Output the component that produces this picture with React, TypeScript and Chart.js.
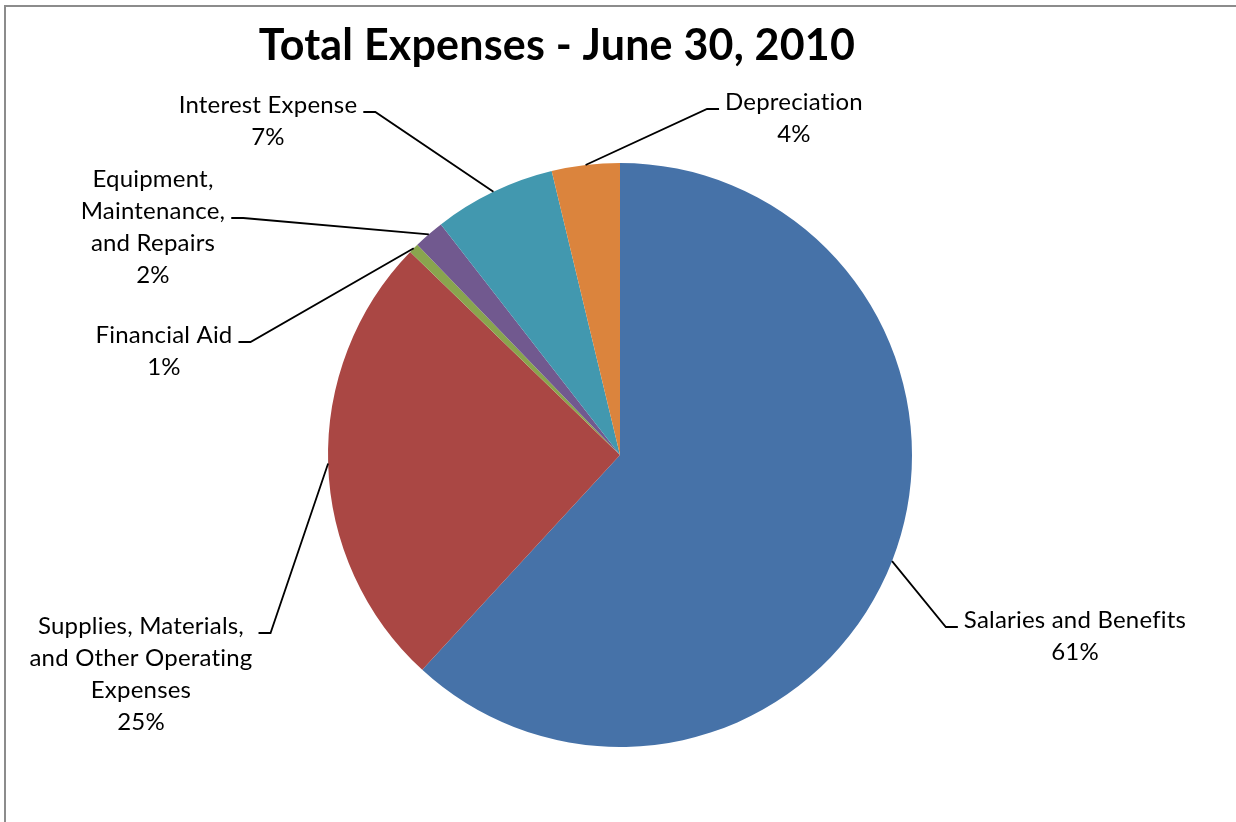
import { useEffect, useRef } from "react"
import { Chart, registerables, type ChartConfiguration, type Plugin } from "chart.js"

Chart.register(...registerables)

const chartTitle = "Total Expenses - June 30, 2010"

// category names, already wrapped the way Excel wrapped them
const categories = [
  ["Salaries and Benefits"],
  ["Supplies, Materials,", "and Other Operating", "Expenses"],
  ["Financial Aid"],
  ["Equipment,", "Maintenance,", "and Repairs"],
  ["Interest Expense"],
  ["Depreciation"],
]
const shares = [61.84, 25.4, 0.55, 1.7, 6.75, 3.76]
const percentLabels = ["61%", "25%", "1%", "2%", "7%", "4%"]
const sliceColors = ["#4672A8", "#AA4744", "#89A54E", "#71598F", "#4298AF", "#DB843D"]

// label placement relative to the pie centre: [dx of text centre, dy of first baseline, line the leader joins]
const labelLayout = [
  [455, 173, 0],
  [-479, 179, 0],
  [-456, -112, 0],
  [-467, -268, 1],
  [-352, -342, 0],
  [174, -345, 0],
]

const LABEL_FONT = "24px Lato, 'Open Sans', sans-serif"
const LINE_H = 32

const excelLook: Plugin<"pie"> = {
  id: "excelLook",
  beforeDraw(chart) {
    const { ctx, width, height } = chart
    ctx.save()
    ctx.fillStyle = "#fff"
    ctx.fillRect(0, 0, width, height)
    ctx.strokeStyle = "#8c8c8c"
    ctx.lineWidth = 2
    ctx.strokeRect(5, 6, width + 20, height + 20)
    ctx.restore()
  },
  afterDraw(chart) {
    const { ctx } = chart
    ctx.save()
    // a tiny letter spacing keeps Lato from drawing fi / ti ligatures
    ;(ctx as any).letterSpacing = "0.2px"
    ctx.fillStyle = "#000"
    ctx.textAlign = "center"
    ctx.textBaseline = "alphabetic"
    ctx.font = "bold 43px Lato, sans-serif"
    ctx.fillText(chartTitle, 557, 60)

    ctx.font = LABEL_FONT
    ctx.strokeStyle = "#000"
    ctx.lineWidth = 1.8
    const arcs = chart.getDatasetMeta(0).data
    arcs.forEach((arc, i) => {
      const { x, y, startAngle, endAngle, outerRadius } = arc.getProps(
        ["x", "y", "startAngle", "endAngle", "outerRadius"],
        true
      ) as any
      const mid = (startAngle + endAngle) / 2
      const px = x + Math.cos(mid) * outerRadius
      const py = y + Math.sin(mid) * outerRadius
      const lines = [...categories[i], percentLabels[i]]
      const [dx, dy, anchor] = labelLayout[i]
      const cx = x + dx
      const base = y + dy
      const widest = Math.max(...lines.map((l) => ctx.measureText(l).width))
      const ty = base + anchor * LINE_H - 1
      let near: number
      let far: number
      if (cx > px) {
        near = cx - widest / 2 - 6
        far = near - 12
      } else {
        near = cx + widest / 2 + 6
        far = near + 12
      }
      ctx.beginPath()
      ctx.moveTo(px, py)
      ctx.lineTo(far, ty)
      ctx.lineTo(near, ty)
      ctx.stroke()
      lines.forEach((l, k) => ctx.fillText(l, cx, base + k * LINE_H))
    })
    ctx.restore()
  },
}

export default function App() {
  const canvasRef = useRef<HTMLCanvasElement>(null)
  const chartRef = useRef<Chart | null>(null)

  useEffect(() => {
    document.body.style.margin = "0"
    if (!canvasRef.current) return
    if (chartRef.current) chartRef.current.destroy()

    const config: ChartConfiguration<"pie"> = {
      type: "pie",
      data: {
        labels: categories.map((c) => c.join(" ")),
        datasets: [
          {
            data: shares,
            backgroundColor: sliceColors,
            borderWidth: 0,
          },
        ],
      },
      options: {
        responsive: false,
        animation: false,
        layout: {
          padding: { top: 163, bottom: 75, left: 328, right: 324 },
        },
        plugins: {
          legend: { display: false },
          title: { display: false },
          tooltip: { enabled: false },
        },
      },
      plugins: [excelLook],
    }

    chartRef.current = new Chart(canvasRef.current, config)

    return () => {
      if (chartRef.current) {
        chartRef.current.destroy()
        chartRef.current = null
      }
    }
  }, [])

  return (
    <div style={{ width: 1236, height: 822 }}>
      <canvas ref={canvasRef} width={1236} height={822} style={{ display: "block" }} />
    </div>
  )
}
